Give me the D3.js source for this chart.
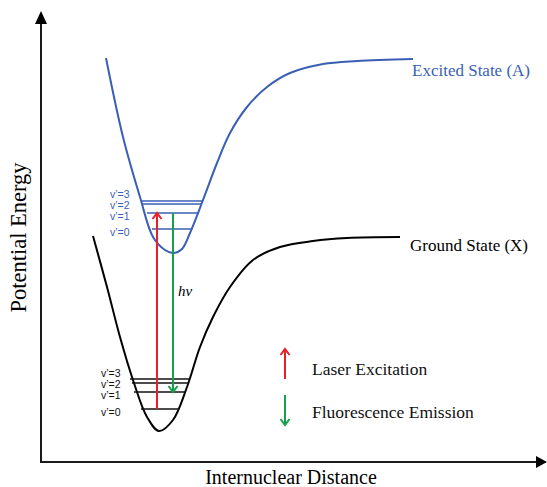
<!DOCTYPE html>
<html>
<head>
<meta charset="utf-8">
<script src="https://cdn.jsdelivr.net/npm/d3@7"></script>
<style>
  html, body { margin: 0; padding: 0; background: #fff; }
  svg { display: block; }
</style>
</head>
<body>
<div id="chart"></div>
<script>
// ── 데이터 (arbitrary units: distance 0–505, energy 0–450) ─────────
const excitedCurve = [
  [65, 404], [82, 325], [99, 265], [112, 225], [124, 212], [132, 209],
  [141, 213], [149, 229], [162, 262], [176, 299], [189, 329], [206, 355],
  [226, 375], [249, 389], [282, 398], [316, 401], [372, 403]
];
const groundCurve = [
  [52, 226], [66, 175], [79, 125], [92, 82], [106, 45], [118, 31],
  [132, 42], [146, 75], [159, 115], [172, 145], [189, 175], [212, 202],
  [239, 215], [272, 221], [306, 224], [359, 225]
];
const levelNames = ["v\u2019=0", "v\u2019=1", "v\u2019=2", "v\u2019=3"];
// energy, left distance, right distance
const excitedLevels = [[233, 111, 151], [249, 106, 157], [258, 102, 160], [261, 101, 161]];
const groundLevels  = [[53, 100, 138], [70, 93, 145], [79, 91, 147], [83, 89, 149]];
// transitions: distance, from energy, to energy
const laserX = 116, laserFrom = 53, laserTo = 249;
const fluorX = 132, fluorFrom = 249, fluorTo = 70;

const stateLabels = ["Excited State (A)", "Ground State (X)"];
const legendLabels = ["Laser Excitation", "Fluorescence Emission"];
const axisLabels = ["Internuclear Distance", "Potential Energy"];

// ── 스타일 ─────────────────────────────────────────────────
const BLUE = "#3a5fb4", RED = "#e8202a", GREEN = "#16a04c", INK = "#1a1a1a";
const SERIF = "'Liberation Serif', 'Times New Roman', serif";
const SANS = "'Liberation Sans', Arial, sans-serif";

const W = 547, H = 487;
const x = d3.scaleLinear().domain([0, 505]).range([41, 546]);
const y = d3.scaleLinear().domain([0, 450]).range([462, 12]);

const svg = d3.select("#chart").append("svg").attr("width", W).attr("height", H);

// ── 축 ─────────────────────────────────────────────────────
svg.append("path")
  .attr("d", `M${x(0)},${y(0) + 1}V${y(450) + 11}`)
  .attr("stroke", INK).attr("stroke-width", 2).attr("fill", "none");
svg.append("path")
  .attr("d", `M${x(0) - 1},${y(0)}H${x(505) - 9}`)
  .attr("stroke", INK).attr("stroke-width", 2).attr("fill", "none");
// 화살촉
svg.append("path")
  .attr("d", `M${x(0)},${y(450) - 1}L${x(0) - 6},${y(450) + 12}L${x(0) + 6},${y(450) + 12}Z`)
  .attr("fill", "#000");
svg.append("path")
  .attr("d", `M${x(505) + 1},${y(0)}L${x(505) - 10},${y(0) - 6}L${x(505) - 10},${y(0) + 6}Z`)
  .attr("fill", "#000");

svg.append("text")
  .attr("x", 291).attr("y", 484)
  .attr("text-anchor", "middle")
  .attr("font-family", SERIF).attr("font-size", 20).attr("fill", "#000")
  .text(axisLabels[0]);
svg.append("text")
  .attr("transform", "translate(26,237.5) rotate(-90)")
  .attr("text-anchor", "middle")
  .attr("font-family", SERIF).attr("font-size", 22.5).attr("fill", "#000")
  .text(axisLabels[1]);

// ── 퍼텐셜 곡선 ────────────────────────────────────────────
const line = d3.line()
  .x(d => x(d[0])).y(d => y(d[1]))
  .curve(d3.curveCatmullRom.alpha(0.5));

svg.append("path").datum(excitedCurve)
  .attr("d", line).attr("fill", "none")
  .attr("stroke", BLUE).attr("stroke-width", 2);
svg.append("path").datum(groundCurve)
  .attr("d", line).attr("fill", "none")
  .attr("stroke", "#000").attr("stroke-width", 2);

svg.append("text")
  .attr("x", x(371)).attr("y", y(excitedCurve[excitedCurve.length - 1][1]) + 17)
  .attr("font-family", SERIF).attr("font-size", 17).attr("fill", BLUE)
  .text(stateLabels[0]);
svg.append("text")
  .attr("x", x(369)).attr("y", y(groundCurve[groundCurve.length - 1][1]) + 14)
  .attr("font-family", SERIF).attr("font-size", 17).attr("fill", "#000")
  .text(stateLabels[1]);

// ── 진동 준위 ──────────────────────────────────────────────
// 라벨 중심 위치 (px, 선 위치와 약간 다름)
const excitedLabelY = [232, 216, 205, 194];
const groundLabelY  = [412, 395, 384, 373];
function drawLevels(levels, color, labelX, labelY) {
  const gl = svg.append("g");
  gl.selectAll("line").data(levels).enter().append("line")
    .attr("x1", d => x(d[1])).attr("x2", d => x(d[2]))
    .attr("y1", d => y(d[0])).attr("y2", d => y(d[0]))
    .attr("stroke", color).attr("stroke-width", 1.4);
  gl.selectAll("text").data(levels).enter().append("text")
    .attr("x", labelX)
    .attr("y", (d, i) => labelY[i])
    .attr("dy", "0.36em")
    .attr("font-family", SANS).attr("font-size", 10.5).attr("fill", color)
    .text((d, i) => levelNames[i]);
}
drawLevels(excitedLevels, BLUE, 110, excitedLabelY);
drawLevels(groundLevels, "#111", 101, groundLabelY);

// ── 전이 화살표 ────────────────────────────────────────────
function chevron(px, py, dir) {
  // dir: -1 up (tip at top), +1 down
  return `M${px - 4.5},${py - dir * 6}L${px},${py}L${px + 4.5},${py - dir * 6}`;
}
function arrow(px, y0, y1, color) {
  const dir = y1 > y0 ? 1 : -1;
  svg.append("line")
    .attr("x1", px).attr("x2", px).attr("y1", y0).attr("y2", y1 - dir * 1)
    .attr("stroke", color).attr("stroke-width", 2);
  svg.append("path").attr("d", chevron(px, y1, dir))
    .attr("fill", "none").attr("stroke", color).attr("stroke-width", 2)
    .attr("stroke-linejoin", "miter");
}
arrow(x(laserX), y(laserFrom), y(laserTo), RED);
arrow(x(fluorX), y(fluorFrom), y(fluorTo), GREEN);

svg.append("text")
  .attr("x", x(fluorX) + 5).attr("y", 296)
  .attr("font-family", SERIF).attr("font-style", "italic")
  .attr("font-size", 15).attr("fill", "#000")
  .text("h\u03BD");

// ── 범례 ───────────────────────────────────────────────────
const legendColors = [RED, GREEN];
legendLabels.forEach((lab, i) => {
  const cy = 364 + i * 46;
  if (i === 0) arrow(285, cy + 15, cy - 15, legendColors[i]);
  else arrow(285, cy - 15, cy + 15, legendColors[i]);
  svg.append("text")
    .attr("x", 312).attr("y", cy + 11 - i * 3)
    .attr("font-family", SERIF).attr("font-size", 17.5).attr("fill", "#111")
    .text(lab);
});
</script>
</body>
</html>
